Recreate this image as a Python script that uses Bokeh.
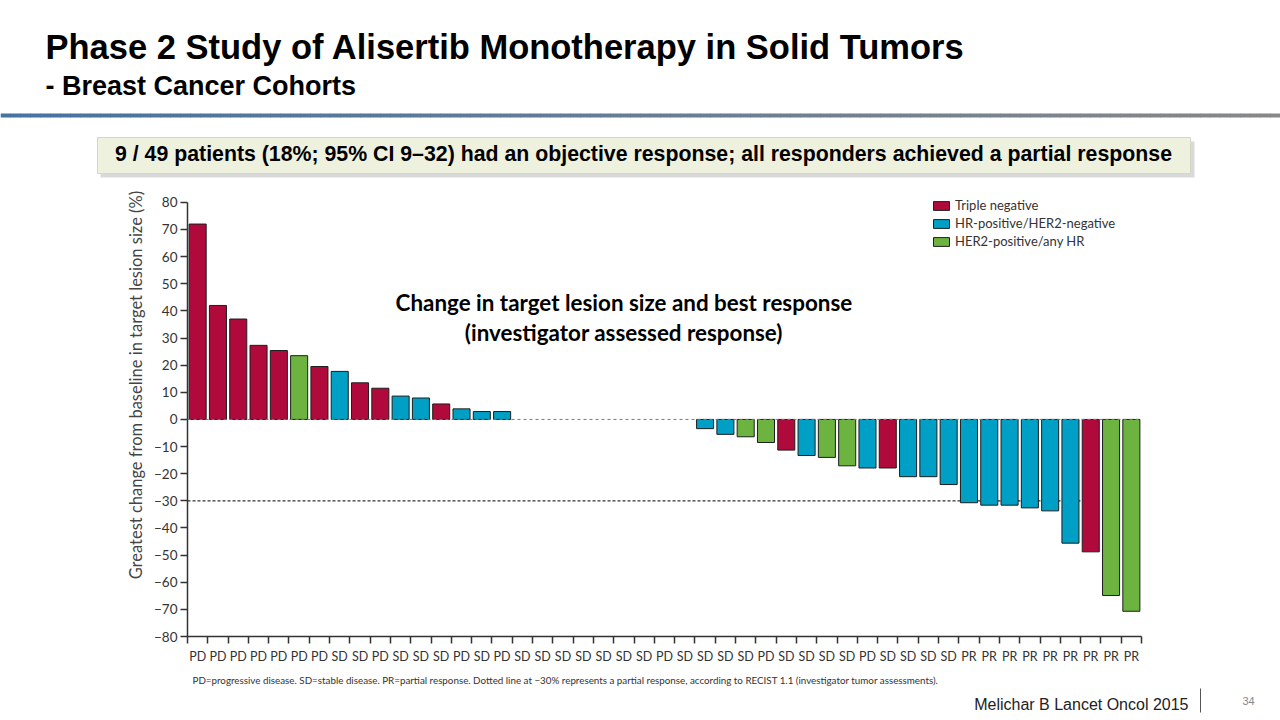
import math
from bokeh.plotting import figure
from bokeh.models import (Range1d, FixedTicker, Span, Label, Legend, LegendItem,
                          ColumnDataSource)
from bokeh.embed import file_html
from bokeh.resources import INLINE
from bokeh.core.properties import value

# ---------------- data ----------------
best_response = (["PD"] * 7 + ["SD", "SD", "PD", "SD", "SD", "SD", "PD", "SD", "PD"]
                 + ["SD"] * 7 + ["PD"] + ["SD"] * 4 + ["PD"] + ["SD"] * 4 + ["PD"]
                 + ["SD"] * 4 + ["PR"] * 9)

pct_change = [72.0, 42.0, 37.0, 27.3, 25.4, 23.5, 19.5, 17.7, 13.5, 11.5, 8.6, 7.9, 5.7, 3.9, 2.9, 2.9,
              0, 0, 0, 0, 0, 0, 0, 0, 0,
              -3.4, -5.5, -6.4, -8.5, -11.3, -13.3, -14.0, -17.1, -17.9, -17.9, -21.1, -21.1, -24.0,
              -30.7, -31.6, -31.6, -32.6, -33.7, -45.6, -48.8, -64.9, -70.7]

subtype = (["TN", "TN", "TN", "TN", "TN", "HER2", "TN", "HR", "TN", "TN", "HR", "HR", "TN", "HR", "HR", "HR"]
           + [""] * 9
           + ["HR", "HR", "HER2", "HER2", "TN", "HR", "HER2", "HER2", "HR", "TN", "HR", "HR", "HR",
              "HR", "HR", "HR", "HR", "HR", "HR", "TN", "HER2", "HER2"])

group_keys = ["TN", "HR", "HER2"]
group_names = ["Triple negative", "HR-positive/HER2-negative", "HER2-positive/any HR"]
group_colors = ["#B00A3C", "#00A0C6", "#6DB33F"]

y_ticks = [-80, -70, -60, -50, -40, -30, -20, -10, 0, 10, 20, 30, 40, 50, 60, 70, 80]
pr_threshold = -30

n = len(pct_change)
positions = list(range(1, n + 1))

CHART_FONT = "Lato"
SLIDE_FONT = "Liberation Sans"
W = 1280

# ---------------- header ----------------
HH = 185
hp = figure(width=W, height=HH, x_range=Range1d(0, W), y_range=Range1d(HH, 0),
            toolbar_location=None, output_backend="svg", min_border=0,
            x_axis_type=None, y_axis_type=None, outline_line_color=None)
hp.xgrid.visible = False
hp.ygrid.visible = False

hp.text(x=[45], y=[46], text=["Phase 2 Study of Alisertib Monotherapy in Solid Tumors"],
        text_font=value(SLIDE_FONT), text_font_style="bold", text_font_size="34.5px",
        text_color="#000000", text_baseline="alphabetic", text_align="left")
hp.text(x=[45], y=[85], text=["- Breast Cancer Cohorts"],
        text_font=value(SLIDE_FONT), text_font_style="bold", text_font_size="27px",
        text_color="#000000", text_baseline="alphabetic", text_align="left")

# gradient rule
c0 = (0x47, 0x73, 0xA3)
c1 = (0x88, 0x88, 0x88)
N = 128
lefts, rights, cols = [], [], []
for i in range(N):
    t = i / (N - 1)
    r = int(c0[0] + (c1[0] - c0[0]) * t)
    g = int(c0[1] + (c1[1] - c0[1]) * t)
    b = int(c0[2] + (c1[2] - c0[2]) * t)
    lefts.append(W * i / N)
    rights.append(W * (i + 1) / N + 0.5)
    cols.append("#%02x%02x%02x" % (r, g, b))
hp.quad(left=lefts, right=rights, top=113, bottom=117, fill_color=cols, line_color=None)

# callout box with shadow
hp.quad(left=[100], right=[1194], top=[141], bottom=[177], fill_color="#A0A0A0",
        fill_alpha=0.4, line_color=None)
hp.quad(left=[97], right=[1190], top=[137], bottom=[173], fill_color="#EEF1DE",
        line_color="#D4D6C8", line_width=1)
hp.text(x=[643], y=[153],
        text=["9 / 49 patients (18%; 95% CI 9\u201332) had an objective response; all responders achieved a partial response"],
        text_font=value(SLIDE_FONT), text_font_style="bold", text_font_size="21.3px",
        text_color="#000000", text_baseline="middle", text_align="center")

# ---------------- chart ----------------
p = figure(width=W, height=487, x_range=Range1d(0.5, n + 0.5), y_range=Range1d(-80, 84),
           toolbar_location=None, output_backend="svg",
           min_border_left=187, min_border_right=139, min_border_top=6, min_border_bottom=36,
           outline_line_color=None)
p.xgrid.visible = False
p.ygrid.visible = False

p.add_layout(Span(location=0, dimension="width", line_color="#7A7A7A", line_width=1,
                  line_dash="3 3"))
p.segment(x0=[0.5], x1=[44.5], y0=[pr_threshold], y1=[pr_threshold], line_color="#333333",
          line_width=1.3, line_dash="3 2")

renderers = []
for key, color in zip(group_keys, group_colors):
    xs = [positions[i] for i in range(n) if subtype[i] == key and pct_change[i] != 0]
    ys = [pct_change[i] for i in range(n) if subtype[i] == key and pct_change[i] != 0]
    src = ColumnDataSource(dict(x=xs, top=ys))
    r = p.vbar(x="x", top="top", bottom=0, width=0.84, source=src, fill_color=color,
               line_color="#1E1E1E", line_width=1)
    renderers.append(r)

legend = Legend(items=[LegendItem(label=nm, renderers=[r]) for nm, r in zip(group_names, renderers)],
                location=(744, 386), orientation="vertical", glyph_width=20, glyph_height=11,
                label_height=18, spacing=0, padding=0, margin=0, label_standoff=4,
                label_text_font=CHART_FONT, label_text_font_size="13px", label_text_color="#333333",
                background_fill_alpha=0, border_line_alpha=0)
p.add_layout(legend)

# x axis: labels at bar centres, ticks at bar boundaries
xa = p.xaxis[0]
xa.ticker = FixedTicker(ticks=positions, minor_ticks=[k + 0.5 for k in range(0, n + 1)])
xa.major_label_overrides = {pos: lab for pos, lab in zip(positions, best_response)}
xa.major_tick_out = 0
xa.major_tick_in = 0
xa.minor_tick_out = 7
xa.minor_tick_in = 0
xa.minor_tick_line_color = "#333333"
xa.minor_tick_line_width = 1.5
xa.axis_line_color = "#333333"
xa.axis_line_width = 1.5
xa.major_label_text_font = CHART_FONT
xa.major_label_text_font_size = "12.5px"
xa.major_label_text_color = "#333333"
xa.major_label_standoff = 5

ya = p.yaxis[0]
ya.ticker = FixedTicker(ticks=y_ticks)
ya.bounds = (-80, 80)
ya.major_label_overrides = {t: (("\u2212%d" % -t) if t < 0 else str(t)) for t in y_ticks}
ya.major_tick_out = 7
ya.major_tick_in = 0
ya.minor_tick_out = 0
ya.minor_tick_in = 0
ya.major_tick_line_color = "#333333"
ya.major_tick_line_width = 1.5
ya.axis_line_color = "#333333"
ya.axis_line_width = 1.5
ya.major_label_text_font = CHART_FONT
ya.major_label_text_font_size = "13.5px"
ya.major_label_text_color = "#333333"
ya.major_label_standoff = 3
ya.axis_label = "\u2003\u2003\u2003\u2003\u2002Greatest change from baseline in target lesion size (%)"
ya.axis_label_text_font = CHART_FONT
ya.axis_label_text_font_size = "16.5px"
ya.axis_label_text_font_style = "normal"
ya.axis_label_text_color = "#444444"
ya.axis_label_standoff = 5

p.add_layout(Label(x=22, y=43.1, text="Change in target lesion size and best response",
                   text_align="center", text_baseline="middle", text_font=CHART_FONT,
                   text_font_style="bold", text_font_size="22.4px", text_color="#000000"))
p.add_layout(Label(x=22, y=32.1, text="(investigator assessed response)",
                   text_align="center", text_baseline="middle", text_font=CHART_FONT,
                   text_font_style="bold", text_font_size="22.4px", text_color="#000000"))

# ---------------- footer ----------------
FH = 48
fp = figure(width=W, height=FH, x_range=Range1d(0, W), y_range=Range1d(FH, 0),
            toolbar_location=None, output_backend="svg", min_border=0,
            x_axis_type=None, y_axis_type=None, outline_line_color=None)
fp.xgrid.visible = False
fp.ygrid.visible = False
fp.text(x=[192], y=[7],
        text=["PD=progressive disease. SD=stable disease. PR=partial response. Dotted line at \u221230% represents a partial response, according to RECIST 1.1 (investigator tumor assessments)."],
        text_font=value(CHART_FONT), text_font_size="9.8px", text_color="#333333",
        text_baseline="middle", text_align="left")
fp.text(x=[1188], y=[32], text=["Melichar B Lancet Oncol 2015"],
        text_font=value(SLIDE_FONT), text_font_size="16px", text_color="#222222",
        text_baseline="middle", text_align="right")
fp.segment(x0=[1200], x1=[1200], y0=[16], y1=[40], line_color="#555555", line_width=1)
fp.text(x=[1248], y=[28], text=["34"], text_font=value(SLIDE_FONT), text_font_size="11px",
        text_color="#888888", text_baseline="middle", text_align="center")

open("out.html", "w").write(file_html([hp, p, fp], INLINE))
